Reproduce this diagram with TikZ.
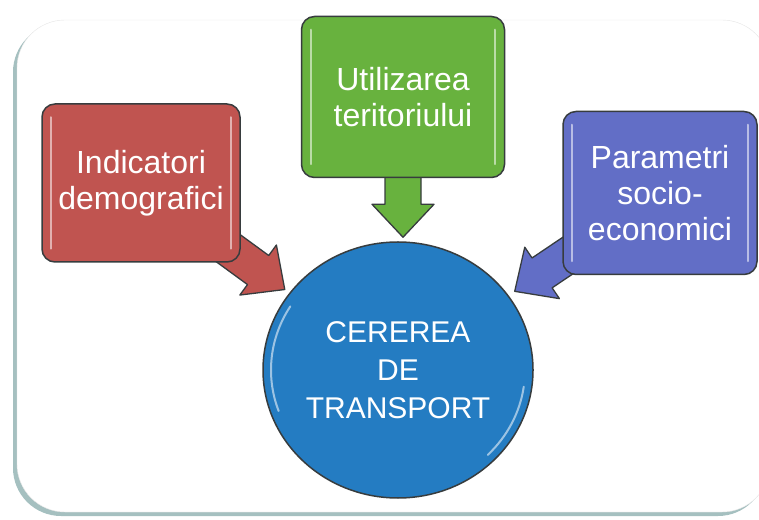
\documentclass[tikz,border=0pt]{standalone}
\usepackage{fontspec}
\setmainfont{Liberation Sans}
\usetikzlibrary{shapes.geometric, calc}
\definecolor{boxred}{RGB}{192,84,80}
\definecolor{boxgreen}{RGB}{104,178,62}
\definecolor{boxblue}{RGB}{98,110,198}
\definecolor{circblue}{RGB}{36,124,194}
\definecolor{edgedark}{RGB}{55,60,62}
\definecolor{panelshade}{RGB}{165,192,192}

\pgfdeclarelayer{back}
\pgfdeclarelayer{mid}
\pgfsetlayers{back,mid,main}

% block arrow from #1 to the tip #2, filled with #3
\newcommand{\blockarrow}[3]{%
  \draw[arrowedge, fill=#3] let \p1=#1, \p2=#2,
      \n1={atan2(\y2-\y1,\x2-\x1)}, \n2={veclen(\x2-\x1,\y2-\y1)} in
    [shift={(\p1)}, rotate=\n1]
    (0pt,-18pt) -- ({\n2-33pt},-18pt) -- ({\n2-33pt},-31pt) -- (\n2,0pt)
    -- ({\n2-33pt},31pt) -- ({\n2-33pt},18pt) -- (0pt,18pt) -- cycle;
}

\begin{document}
\begin{tikzpicture}[x=1pt, y=1pt,
    box/.style={draw=edgedark, line width=1.5pt, rounded corners=13pt, text=white,
        align=center, inner sep=0pt, font=\fontsize{32}{36}\selectfont},
    arrowedge/.style={draw=edgedark, line width=1.3pt, line join=round},
    gloss/.style={white, opacity=0.55, line width=2pt, line cap=round}]
    \useasboundingbox (0,0) rectangle (759,519);

    % panel behind everything
    \begin{pgfonlayer}{back}
        \fill[panelshade, rounded corners=48pt] (13,3) rectangle (766,495);
        \filldraw[fill=white, draw=gray!20, rounded corners=48pt] (17,7) rectangle (770,499);
    \end{pgfonlayer}

    % Cererea de transport
    \node[box, ellipse, fill=circblue, minimum width=270pt, minimum height=256pt,
        font=\fontsize{30}{38}\selectfont] (cerere) at (398,149) {CEREREA\\DE\\TRANSPORT};

    % Indicatori demografici
    \node[box, fill=boxred, minimum width=198pt, minimum height=158pt] (demo) at (141,336)
        {Indicatori\\demografici};

    % Utilizarea teritoriului
    \node[box, fill=boxgreen, minimum width=203pt, minimum height=161pt] (teren) at (403,422)
        {Utilizarea\\teritoriului};

    % Parametri socio-economici
    \node[box, fill=boxblue, minimum width=194pt, minimum height=163pt] (socio) at (660,326)
        {Parametri\\socio-\\economici};

    % glossy edges
    \draw[gloss] ([shift={(10,-14)}]demo.north west) -- ([shift={(10,14)}]demo.south west);
    \draw[gloss] ([shift={(-10,-14)}]demo.north east) -- ([shift={(-10,14)}]demo.south east);
    \draw[gloss] ([shift={(10,-14)}]teren.north west) -- ([shift={(10,14)}]teren.south west);
    \draw[gloss] ([shift={(-10,-14)}]teren.north east) -- ([shift={(-10,14)}]teren.south east);
    \draw[gloss] ([shift={(10,-14)}]socio.north west) -- ([shift={(10,14)}]socio.south west);
    \draw[gloss] ([shift={(-10,-14)}]socio.north east) -- ([shift={(-10,14)}]socio.south east);
    \draw[gloss] ($(cerere.center)+(148:127 and 120)$) arc[start angle=148, end angle=200, x radius=127pt, y radius=120pt];
    \draw[gloss] ($(cerere.center)+(-8:127 and 120)$) arc[start angle=-8, end angle=-45, x radius=127pt, y radius=120pt];

    % arrows into the circle
    \begin{pgfonlayer}{mid}
        \blockarrow{($(demo.south east)+(-20,20)$)}{($(cerere.145)+(-4,4)$)}{boxred}
        \blockarrow{($(teren.south)+(0,15)$)}{($(teren.south |- cerere.north)+(0,4)$)}{boxgreen}
        \blockarrow{($(socio.south west)+(12,24)$)}{($(cerere.34)+(6,4)$)}{boxblue}
    \end{pgfonlayer}
\end{tikzpicture}
\end{document}
